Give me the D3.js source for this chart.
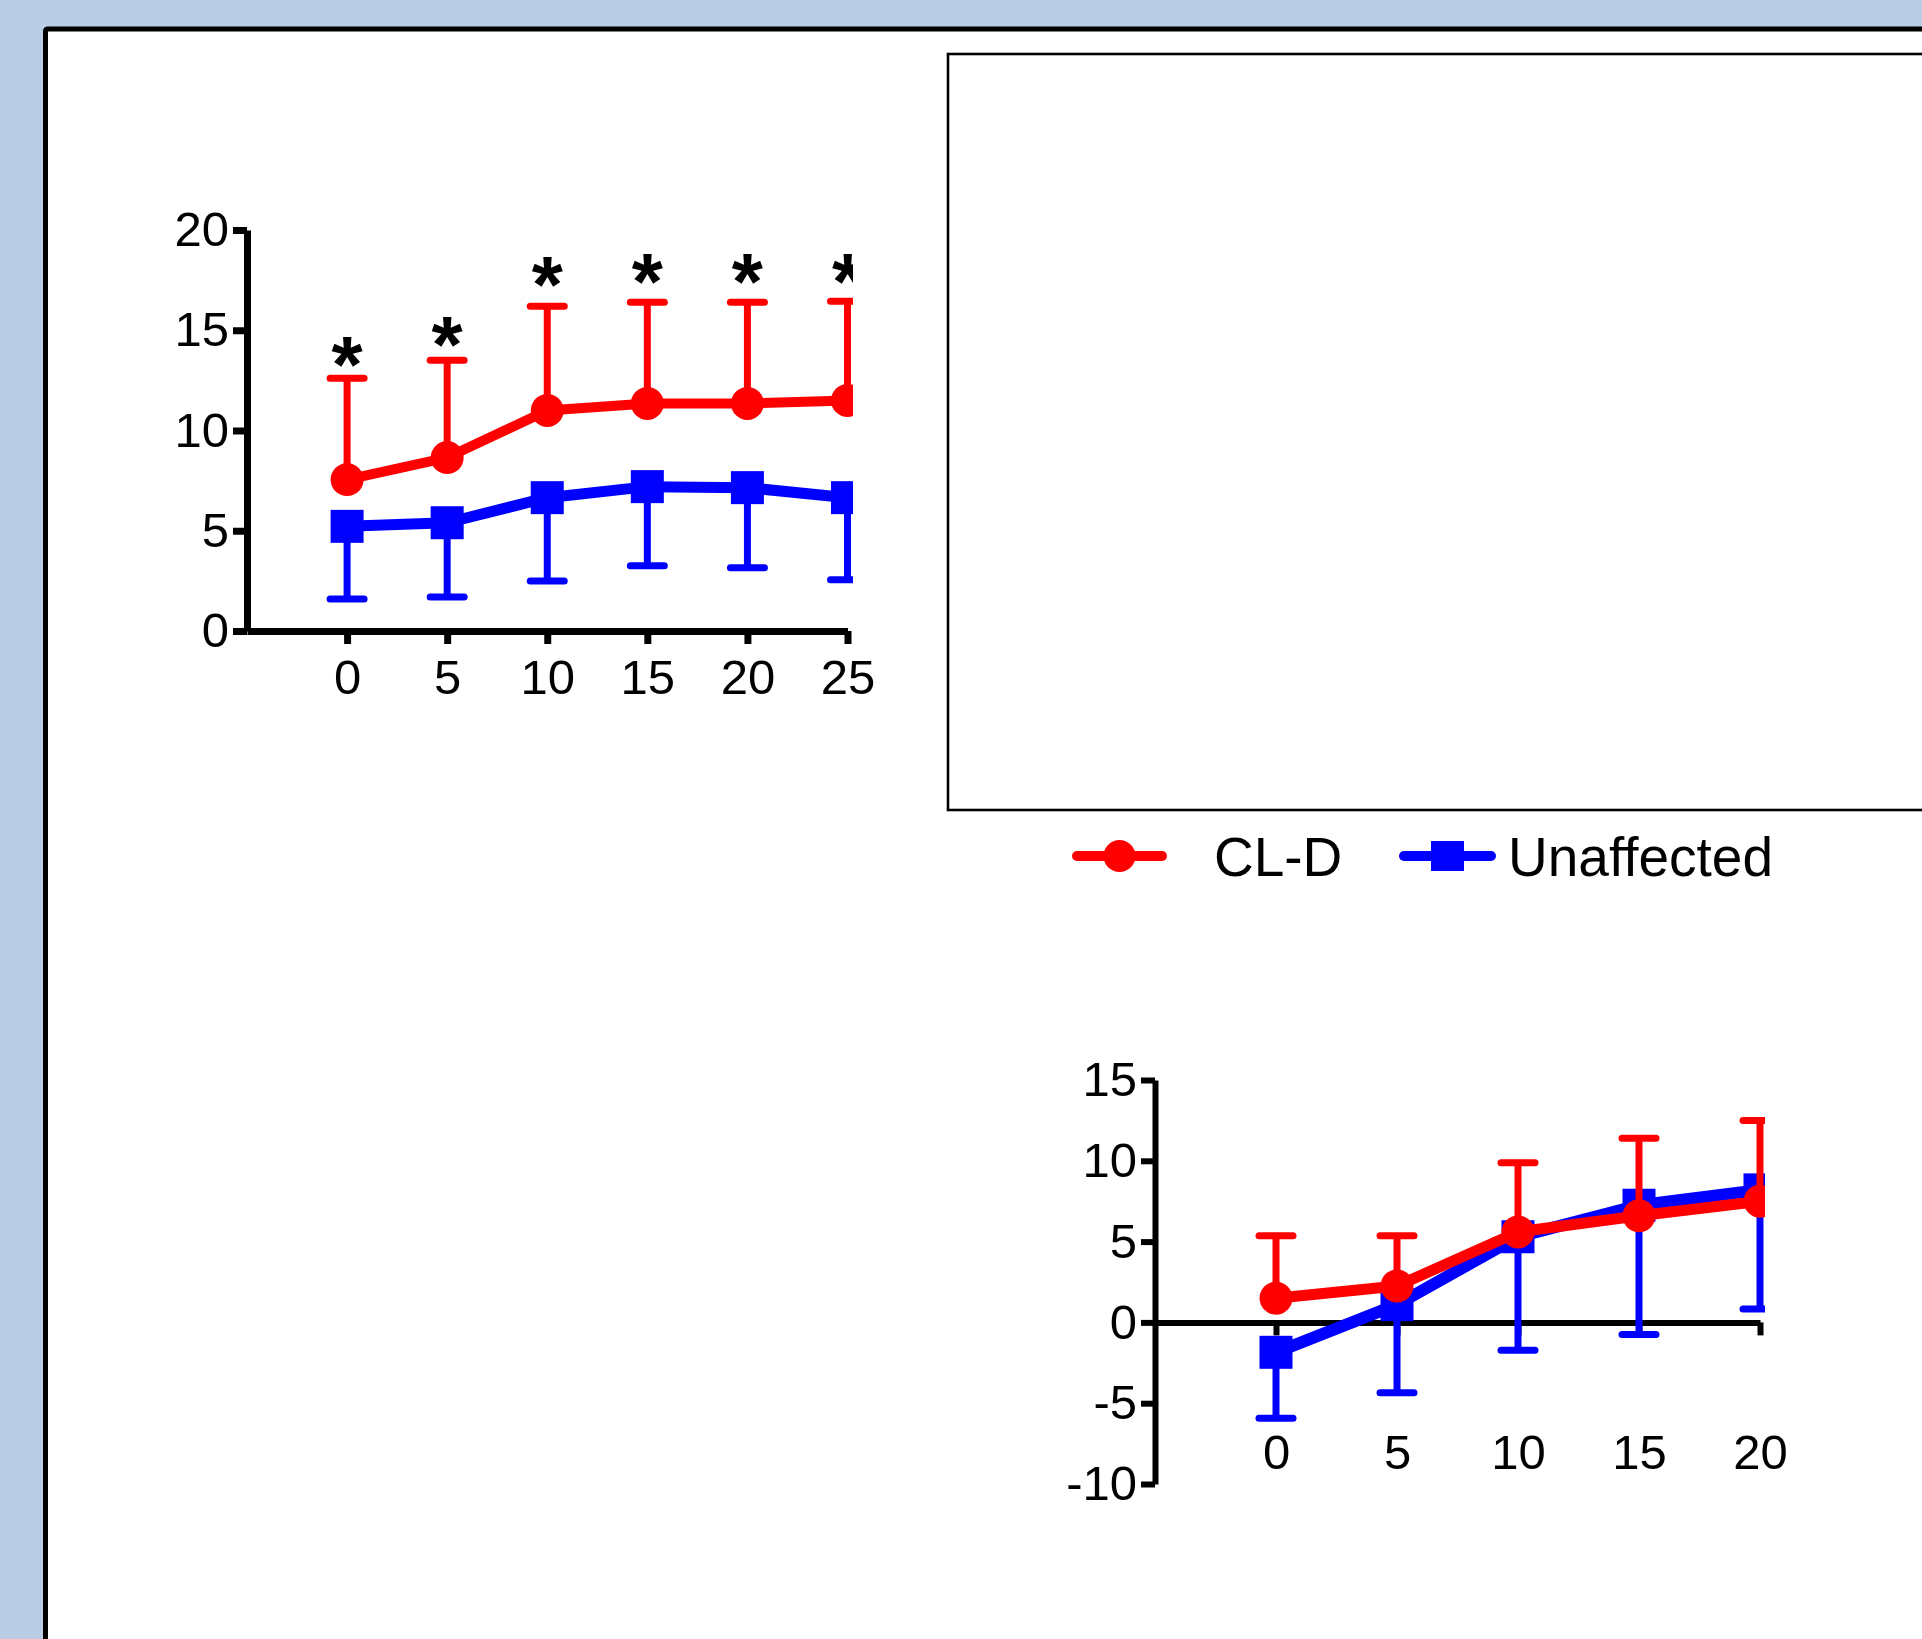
<!DOCTYPE html>
<html>
<head>
<meta charset="utf-8">
<script src="https://cdn.jsdelivr.net/npm/d3@7"></script>
<style>
  html, body { margin: 0; padding: 0; background: #b9cde5; }
  svg { display: block; }
  text { font-family: "Liberation Sans", Arial, Helvetica, sans-serif; }
</style>
</head>
<body>
<div id="chart"></div>
<script>
// ---- top panel data (mean +/- SD) ----
var topTimes = [0, 5, 10, 15, 20, 25]
var topTicksY = [0, 5, 10, 15, 20]
var topCldMean = [7.55, 8.65, 11.0, 11.35, 11.35, 11.5]
var topCldSD = [5.05, 4.85, 5.2, 5.05, 5.05, 4.95]
var topUnaMean = [5.22, 5.4, 6.65, 7.2, 7.15, 6.65]
var topUnaSD = [3.62, 3.7, 4.15, 3.95, 4.0, 4.1]
var starLevel = [13.95, 14.95, 17.95, 18.1, 18.1, 18.1]

// ---- bottom panel data ----
var botTimes = [0, 5, 10, 15, 20]
var botTicksY = [-10, -5, 0, 5, 10, 15]
var botCldMean = [1.5, 2.25, 5.6, 6.6, 7.5]
var botCldSD = [3.86, 3.11, 4.28, 4.8, 5.0]
var botUnaMean = [-1.85, 1.1, 5.3, 7.25, 8.2]
var botUnaSD = [4.08, 5.46, 7.02, 8.0, 7.37]

var legendNames = ["CL-D", "Unaffected"]
var red = "#ff0000", blue = "#0000ff"

var W = 1922, H = 1639
var svg = d3.select("#chart").append("svg")
    .attr("width", W)
    .attr("height", H)

// page frame
svg.append("rect")
    .attr("x", 45.5).attr("y", 29)
    .attr("width", W).attr("height", H)
    .attr("fill", "#fff")
    .attr("stroke", "#000")
    .attr("stroke-width", 5)
    .attr("stroke-linejoin", "round")
    .attr("rx", 2)

// empty right box
svg.append("rect")
    .attr("x", 948).attr("y", 54)
    .attr("width", 1100).attr("height", 756)
    .attr("fill", "none")
    .attr("stroke", "#000")
    .attr("stroke-width", 2.6)

function makeSeries(times, mean, sd) {
  return times.map(function(t, i){ return {t: t, m: mean[i], sd: sd[i]} })
}

// plain hyphen for negatives, like the original
function fmt(d) { return String(d) }

function drawPanel(o) {
  var x = d3.scaleLinear().domain(o.xDomain).range(o.xRange)
  var y = d3.scaleLinear().domain(o.yDomain).range(o.yRange)
  var g = svg.append("g")

  // axes first, data goes on top
  g.append("g")
      .attr("transform", "translate(" + o.xRange[0] + ",0)")
      .call(d3.axisLeft(y).tickValues(o.yTicks).tickSize(14).tickSizeOuter(0).tickPadding(4).tickFormat(fmt))
  g.append("g")
      .attr("transform", "translate(0," + y(o.xAxisAt) + ")")
      .call(d3.axisBottom(x).tickValues(o.times).tickSize(13).tickSizeOuter(0)
            .tickPadding(15).tickFormat(o.labelsBelow ? "" : fmt))
  g.selectAll(".domain, .tick line")
      .attr("stroke", "#000")
      .attr("stroke-width", o.axisW)

  if (o.labelsBelow) {
    var lab = g.append("g")
        .attr("transform", "translate(0," + o.labelsBelow + ")")
        .call(d3.axisBottom(x).tickValues(o.times).tickSize(0).tickPadding(0).tickFormat(fmt))
    lab.select(".domain").remove()
  }
  g.selectAll(".tick text")
      .attr("font-size", 49)
      .attr("font-family", "Liberation Sans, Arial, sans-serif")
      .attr("fill", "#000")

  var clipId = "clip" + o.id
  svg.append("clipPath").attr("id", clipId)
    .append("rect")
    .attr("x", 0).attr("y", 0)
    .attr("width", o.clipRight).attr("height", H)

  var plot = g.append("g").attr("clip-path", "url(#" + clipId + ")")

  var line = d3.line()
      .x(function(d){ return x(d.t) })
      .y(function(d){ return y(d.m) })

  o.series.forEach(function(s) {
    var sg = plot.append("g")
    var dir = s.up ? 1 : -1
    // error bars (one-sided)
    sg.selectAll(".eb").data(s.data).enter().append("line")
      .attr("x1", function(d){ return x(d.t) })
      .attr("x2", function(d){ return x(d.t) })
      .attr("y1", function(d){ return y(d.m) })
      .attr("y2", function(d){ return y(d.m + dir * d.sd) })
      .attr("stroke", s.color).attr("stroke-width", 7)
    sg.selectAll(".cap").data(s.data).enter().append("line")
      .attr("x1", function(d){ return x(d.t) - 17 })
      .attr("x2", function(d){ return x(d.t) + 17 })
      .attr("y1", function(d){ return y(d.m + dir * d.sd) })
      .attr("y2", function(d){ return y(d.m + dir * d.sd) })
      .attr("stroke", s.color).attr("stroke-width", 7)
      .attr("stroke-linecap", "round")
    sg.append("path").datum(s.data)
      .attr("d", line)
      .attr("fill", "none")
      .attr("stroke", s.color)
      .attr("stroke-width", s.lw)
      .attr("stroke-linejoin", "round")
    if (s.shape == "circle") {
      sg.selectAll(".mk").data(s.data).enter().append("circle")
        .attr("cx", function(d){ return x(d.t) })
        .attr("cy", function(d){ return y(d.m) })
        .attr("r", 16.5)
        .attr("fill", s.color)
    } else {
      sg.selectAll(".mk").data(s.data).enter().append("rect")
        .attr("x", function(d){ return x(d.t) - 16.5 })
        .attr("y", function(d){ return y(d.m) - 16.5 })
        .attr("width", 33).attr("height", 33)
        .attr("fill", s.color)
    }
  })

  if (o.stars) {
    plot.selectAll(".star").data(o.stars).enter().append("text")
      .attr("x", function(d, i){ return x(o.times[i]) })
      .attr("y", function(d){ return y(d) + 41 })
      .attr("text-anchor", "middle")
      .attr("font-size", 80)
      .attr("font-weight", "bold")
      .text("*")
  }
}

drawPanel({
  id: "top",
  times: topTimes,
  xDomain: [-5, 25], xRange: [247, 847.5],
  yDomain: [0, 20], yRange: [631, 230],
  yTicks: topTicksY,
  xAxisAt: 0,
  axisW: 7,
  clipRight: 853,
  stars: starLevel,
  series: [
    {data: makeSeries(topTimes, topUnaMean, topUnaSD), color: blue, up: false, shape: "square", lw: 11},
    {data: makeSeries(topTimes, topCldMean, topCldSD), color: red, up: true, shape: "circle", lw: 10}
  ]
})

drawPanel({
  id: "bot",
  times: botTimes,
  xDomain: [-5, 20], xRange: [1155, 1760],
  yDomain: [-10, 15], yRange: [1484, 1080],
  yTicks: botTicksY,
  xAxisAt: 0,
  axisW: 6,
  clipRight: 1765,
  labelsBelow: 1434,
  series: [
    {data: makeSeries(botTimes, botUnaMean, botUnaSD), color: blue, up: false, shape: "square", lw: 12},
    {data: makeSeries(botTimes, botCldMean, botCldSD), color: red, up: true, shape: "circle", lw: 11}
  ]
})

// legend
var legend = svg.append("g").attr("transform", "translate(0,856)")
var legItems = [
  {name: legendNames[0], color: red, shape: "circle", x1: 1077, x2: 1162, tx: 1214},
  {name: legendNames[1], color: blue, shape: "square", x1: 1404, x2: 1491, tx: 1508}
]
legItems.forEach(function(d) {
  legend.append("line")
    .attr("x1", d.x1).attr("x2", d.x2)
    .attr("y1", 0).attr("y2", 0)
    .attr("stroke", d.color).attr("stroke-width", 10)
    .attr("stroke-linecap", "round")
  var cx = (d.x1 + d.x2) / 2
  if (d.shape == "circle") {
    legend.append("circle").attr("cx", cx).attr("cy", 0).attr("r", 16).attr("fill", d.color)
  } else {
    legend.append("rect").attr("x", cx - 16.5).attr("y", -15).attr("width", 33).attr("height", 30).attr("fill", d.color)
  }
  legend.append("text")
    .attr("x", d.tx).attr("y", 20)
    .attr("font-size", 55)
    .attr("fill", "#000")
    .text(d.name)
})
</script>
</body>
</html>
